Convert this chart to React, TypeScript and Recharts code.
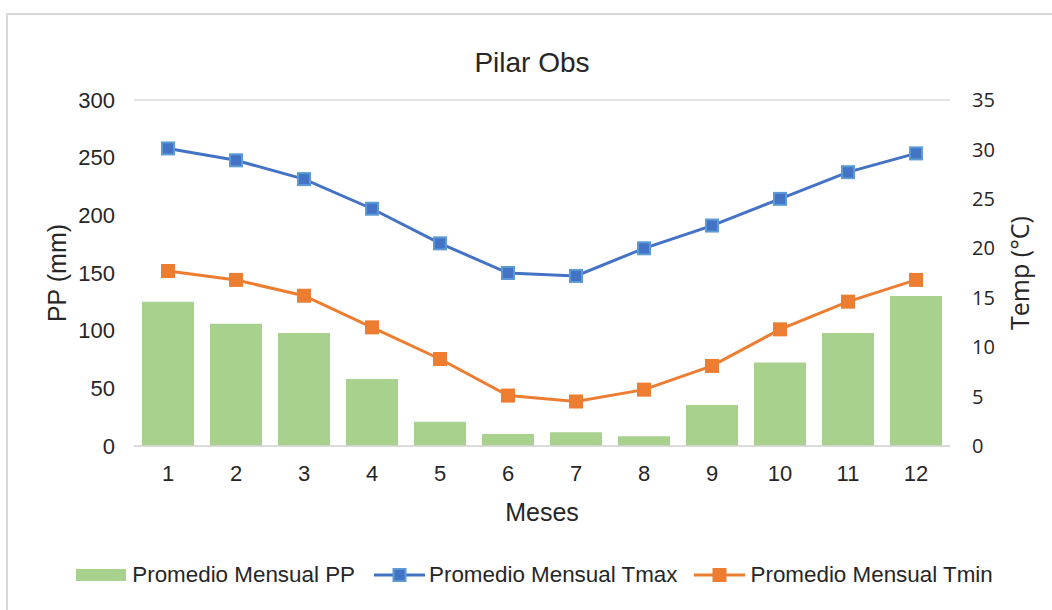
import React from 'react';
import { ComposedChart, Bar, Line, XAxis, YAxis, CartesianGrid, Legend } from 'recharts';

const months = ['1', '2', '3', '4', '5', '6', '7', '8', '9', '10', '11', '12'];
const pp = [125, 106, 98, 58, 21, 10.5, 12, 8.5, 35.5, 72.5, 98, 130];
const tmax = [30.1, 28.9, 27.0, 24.0, 20.5, 17.5, 17.2, 20.0, 22.3, 25.0, 27.7, 29.6];
const tmin = [17.7, 16.8, 15.2, 12.0, 8.8, 5.1, 4.5, 5.7, 8.1, 11.8, 14.6, 16.8];
const leftTicks = [0, 50, 100, 150, 200, 250, 300];
const rightTicks = [0, 5, 10, 15, 20, 25, 30, 35];

const data = months.map((m, i) => ({ mes: m, pp: pp[i], tmax: tmax[i], tmin: tmin[i] }));

const ARIAL = '"Liberation Sans", Arial, sans-serif';
const CAL = '"Open Sans", "Liberation Sans", sans-serif';
const BLUE = '#4472C4';
const BLUE_LIGHT = '#5B9BD5';
const ORANGE = '#ED7D31';
const GREEN = '#A9D18E';
const TEXT = '#262626';

const SquareDot = (fill: string, stroke: string) => (props: any) => {
  const { cx, cy, index } = props;
  if (cx == null || cy == null) return null;
  const s = 12;
  return (
    <rect key={`d-${index}`} x={cx - s / 2} y={cy - s / 2} width={s} height={s} fill={fill} stroke={stroke} strokeWidth={2} />
  );
};

const renderLegend = () => {
  const txt: React.CSSProperties = { fontFamily: ARIAL, fontSize: 22.4, color: TEXT, whiteSpace: 'nowrap', lineHeight: '26px' };
  const lineItem = (color: string, fill: string, stroke: string) => (
    <svg width={51} height={16} style={{ display: 'block' }}>
      <line x1={0} y1={8} x2={51} y2={8} stroke={color} strokeWidth={3} />
      <rect x={19.5} y={2} width={12} height={12} fill={fill} stroke={stroke} strokeWidth={2} />
    </svg>
  );
  return (
    <div style={{ display: 'flex', alignItems: 'center', justifyContent: 'center', width: 1069 }}>
      <div style={{ width: 50, height: 12, background: GREEN, marginRight: 6 }} />
      <span style={txt}>Promedio Mensual PP</span>
      <div style={{ marginLeft: 19, marginRight: 4 }}>{lineItem(BLUE, BLUE, BLUE_LIGHT)}</div>
      <span style={txt}>Promedio Mensual Tmax</span>
      <div style={{ marginLeft: 16, marginRight: 6 }}>{lineItem(ORANGE, ORANGE, ORANGE)}</div>
      <span style={txt}>Promedio Mensual Tmin</span>
    </div>
  );
};

export default function App() {
  return (
    <div style={{ position: 'absolute', left: 0, top: 0, width: 1052, height: 610, background: '#fff', overflow: 'hidden' }}>
      <div style={{ position: 'absolute', left: 6, top: 13, width: 1100, height: 700, border: '2px solid #d9d9d9', boxSizing: 'border-box' }} />
      <div style={{ position: 'absolute', left: 0, top: 48, width: 1064, textAlign: 'center', fontFamily: ARIAL, fontSize: 28, lineHeight: '30px', color: TEXT }}>
        Pilar Obs
      </div>
      <div style={{ position: 'absolute', left: 0, top: 0 }}>
        <ComposedChart width={1052} height={610} data={data} margin={{ top: 100, right: 0, left: 0, bottom: 64 }} barSize={52}>
          <CartesianGrid vertical={false} stroke="#d9d9d9" strokeWidth={1.5} />
          <XAxis
            dataKey="mes"
            height={100}
            tickLine={false}
            tickSize={0}
            tickMargin={19}
            axisLine={{ stroke: '#d9d9d9', strokeWidth: 1.5 }}
            tick={{ fontFamily: ARIAL, fontSize: 22, fill: TEXT }}
            label={{ value: 'Meses', position: 'center', dy: 16, fontFamily: ARIAL, fontSize: 25, fill: TEXT }}
          />
          <YAxis
            yAxisId="left"
            width={134}
            domain={[0, 300]}
            ticks={leftTicks}
            tickLine={false}
            tickSize={0}
            tickMargin={19}
            axisLine={false}
            tick={{ fontFamily: ARIAL, fontSize: 22, fill: TEXT }}
            label={{ value: 'PP (mm)', angle: -90, position: 'center', dx: -10, fontFamily: ARIAL, fontSize: 25, fill: TEXT }}
          />
          <YAxis
            yAxisId="right"
            orientation="right"
            width={102}
            domain={[0, 35]}
            ticks={rightTicks}
            tickLine={false}
            tickSize={0}
            tickMargin={22}
            axisLine={false}
            tick={{ fontFamily: CAL, fontSize: 20, fill: TEXT }}
            label={{ value: 'Temp (°C)', angle: -90, position: 'center', dx: 19, fontFamily: CAL, fontSize: 25, fill: TEXT }}
          />
          <Bar yAxisId="left" dataKey="pp" name="Promedio Mensual PP" fill={GREEN} isAnimationActive={false} />
          <Line
            yAxisId="right"
            dataKey="tmax"
            name="Promedio Mensual Tmax"
            stroke={BLUE}
            strokeWidth={3}
            dot={SquareDot(BLUE, BLUE_LIGHT)}
            activeDot={false}
            isAnimationActive={false}
          />
          <Line
            yAxisId="right"
            dataKey="tmin"
            name="Promedio Mensual Tmin"
            stroke={ORANGE}
            strokeWidth={3}
            dot={SquareDot(ORANGE, ORANGE)}
            activeDot={false}
            isAnimationActive={false}
          />
          <Legend
            layout="horizontal"
            verticalAlign="middle"
            align="center"
            content={renderLegend}
            wrapperStyle={{ position: 'absolute', left: 0, top: 562, width: 1069, height: 26 }}
          />
        </ComposedChart>
      </div>
    </div>
  );
}
